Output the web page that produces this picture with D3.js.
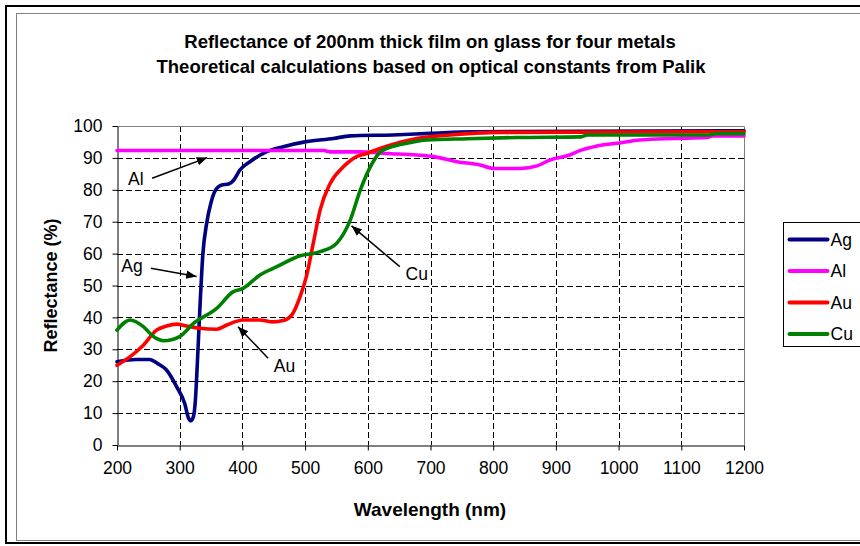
<!DOCTYPE html>
<html>
<head>
<meta charset="utf-8">
<script src="https://cdn.jsdelivr.net/npm/d3@7"></script>
<style>
  body { margin: 0; background: #fff; }
  svg { display: block; font-family: "Liberation Sans", Arial, sans-serif; }
</style>
</head>
<body>
<div id="chart"></div>
<script>
// values: [wavelength nm, reflectance %]
const agData = [[200,26.1],[230,26.8],[252,26.8],[265,25.5],[279,23.5],[295,18.3],[308,13],[314,8.5],[318,7.6],[322,9],[325,14],[328,25],[332,42],[337,60],[343,69.5],[350,76],[356,79.5],[367,81.5],[378,81.8],[386,83],[396,86.2],[412,88.8],[438,91.9],[465,93.5],[502,95.1],[545,96.1],[572,96.9],[640,97.2],[700,97.7],[768,98.2],[1200,98.5]];
const alData = [[200,92.3],[530,92.3],[540,91.9],[588,91.9],[630,91.4],[678,90.9],[705,90.4],[742,88.8],[779,87.8],[800,86.7],[843,86.7],[870,87.5],[890,89.3],[922,90.9],[938,92.3],[965,93.7],[997,94.6],[1034,95.6],[1087,96.1],[1140,96.4],[1150,96.9],[1200,96.9]];
const auData = [[200,25],[221,27.7],[242,31.3],[263,36],[279,37.3],[295,37.9],[311,37.3],[332,36.6],[359,36.3],[375,37.6],[401,39.2],[428,39.2],[449,38.6],[465,39],[479,40.8],[492,46.5],[502,52.8],[513,63.2],[524,73.7],[540,82],[561,87.2],[582,90.4],[598,91.4],[630,93.7],[678,96.1],[731,97.2],[811,98],[1200,98.2]];
const cuData = [[200,36],[221,39.2],[242,37.1],[258,34],[274,32.7],[300,34],[322,38.1],[359,42.8],[385,48],[401,49.1],[428,53.3],[455,55.9],[492,59.3],[524,60.6],[550,63.2],[572,70.5],[588,79.9],[604,87.2],[620,91.9],[635,93.3],[662,94.6],[694,95.6],[758,96],[838,96.4],[940,96.6],[950,97.2],[1145,97.2],[1155,97.6],[1200,97.6]];

const seriesNames = ["Ag", "Al", "Au", "Cu"];
const seriesColors = ["#000080", "#ff00ff", "#ff0000", "#008000"];
const xTicks = [200,300,400,500,600,700,800,900,1000,1100,1200];
const yTicks = [0,10,20,30,40,50,60,70,80,90,100];

// annotation: label, text centre (data), arrow start and tip (data)
const notes = [
    { label: "Al", tx: [230, 83.3], from: [256, 83.6], to: [344, 90.1] },
    { label: "Ag", tx: [224, 56.2], from: [254, 55.4], to: [327, 52.8] },
    { label: "Au", tx: [467, 24.8], from: [441, 27.2], to: [393, 37.1] },
    { label: "Cu", tx: [678, 53.8], from: [651, 55.9], to: [574, 68.7] }
];

const width = 860, height = 546;
const margin = { left: 117, right: 116, top: 126, bottom: 101 };

const svg = d3.select("#chart").append("svg")
    .attr("width", width).attr("height", height);

svg.append("rect").attr("width", width).attr("height", height).attr("fill", "#fff");

// outer frames
svg.append("rect").attr("x", 6).attr("y", 6).attr("width", 900).attr("height", 537)
    .attr("fill", "none").attr("stroke", "#000").attr("stroke-width", 2);
svg.append("rect").attr("x", 16.5).attr("y", 13.5).attr("width", 900).attr("height", 527)
    .attr("fill", "none").attr("stroke", "#808080").attr("stroke-width", 1);

const x = d3.scaleLinear().domain([200, 1200]).range([margin.left, width - margin.right]);
const y = d3.scaleLinear().domain([0, 100]).range([height - margin.bottom, margin.top]);

// title
const title = svg.append("g").attr("font-weight", "bold").attr("font-size", 18.5)
    .attr("text-anchor", "middle");
title.append("text").attr("x", 430).attr("y", 48).text("Reflectance of 200nm thick film on glass for four metals");
title.append("text").attr("x", 431).attr("y", 73).text("Theoretical calculations based on optical constants from Palik");

// grid
const grid = svg.append("g").attr("stroke", "#000").attr("stroke-width", 1).attr("stroke-dasharray", "6,3");
grid.selectAll(".hg").data(yTicks.slice(1, -1)).enter().append("line")
    .attr("x1", x(200)).attr("x2", x(1200))
    .attr("y1", d => Math.round(y(d)) + 0.5).attr("y2", d => Math.round(y(d)) + 0.5);
grid.selectAll(".vg").data(xTicks.slice(1, -1)).enter().append("line")
    .attr("y1", y(100)).attr("y2", y(0))
    .attr("x1", d => Math.round(x(d)) + 0.5).attr("x2", d => Math.round(x(d)) + 0.5);

// plot border top/right
svg.append("path")
    .attr("d", `M${x(200)},${Math.round(y(100)) + 0.5}H${Math.round(x(1200)) + 0.5}V${y(0)}`)
    .attr("fill", "none").attr("stroke", "#808080").attr("stroke-width", 1);

// axes
const xAxis = svg.append("g").attr("transform", `translate(0,${Math.round(y(0)) + 0.5})`)
    .call(d3.axisBottom(x).tickValues(xTicks).tickSize(5).tickSizeOuter(0).tickFormat(d3.format("d")));
const yAxis = svg.append("g").attr("transform", `translate(${Math.round(x(200)) + 0.5},0)`)
    .call(d3.axisLeft(y).tickValues(yTicks).tickSize(5).tickSizeOuter(0));
[xAxis, yAxis].forEach(a => {
    a.select(".domain").attr("stroke", "#000");
    a.selectAll(".tick line").attr("stroke", "#000");
    a.selectAll("text").attr("font-size", 17.5).attr("fill", "#000")
        .attr("font-family", "'Liberation Sans', Arial, sans-serif");
});
xAxis.selectAll("text").attr("dy", "0.71em").attr("y", 16);
yAxis.selectAll("text").attr("x", -15);

svg.append("text").attr("x", 430).attr("y", 516).attr("text-anchor", "middle")
    .attr("font-weight", "bold").attr("font-size", 19).text("Wavelength (nm)");
svg.append("text").attr("transform", `translate(57,${y(50)}) rotate(-90)`)
    .attr("text-anchor", "middle").attr("font-weight", "bold").attr("font-size", 18)
    .text("Reflectance (%)");

// series
const line = d3.line().x(d => x(d[0])).y(d => y(d[1])).curve(d3.curveMonotoneX);
const allData = [agData, alData, auData, cuData];
svg.append("g").selectAll("path").data(allData).enter().append("path")
    .attr("d", line).attr("fill", "none")
    .attr("stroke", (d, i) => seriesColors[i]).attr("stroke-width", 3.6)
    .attr("stroke-linejoin", "round").attr("stroke-linecap", "round");

// arrows
svg.append("defs").append("marker").attr("id", "arrow")
    .attr("viewBox", "0 0 10 10").attr("refX", 10).attr("refY", 5)
    .attr("markerWidth", 7).attr("markerHeight", 7).attr("orient", "auto")
    .append("path").attr("d", "M0,1L10,5L0,9z").attr("fill", "#000");

const ann = svg.append("g");
ann.selectAll("line").data(notes).enter().append("line")
    .attr("x1", d => x(d.from[0])).attr("y1", d => y(d.from[1]))
    .attr("x2", d => x(d.to[0])).attr("y2", d => y(d.to[1]))
    .attr("stroke", "#000").attr("stroke-width", 1.5).attr("marker-end", "url(#arrow)");
ann.selectAll("text").data(notes).enter().append("text")
    .attr("x", d => x(d.tx[0])).attr("y", d => y(d.tx[1]))
    .attr("text-anchor", "middle").attr("dy", "0.35em").attr("font-size", 17.5)
    .text(d => d.label);

// legend
const legend = svg.append("g").attr("transform", "translate(783.5,222.5)");
legend.append("rect").attr("width", 100).attr("height", 124)
    .attr("fill", "#fff").attr("stroke", "#000").attr("stroke-width", 1);
const items = legend.selectAll(".item").data(seriesNames).enter().append("g")
    .attr("transform", (d, i) => `translate(0,${17 + i * 31.5})`);
items.append("line").attr("x1", 6).attr("x2", 44)
    .attr("stroke", (d, i) => seriesColors[i]).attr("stroke-width", 4).attr("stroke-linecap", "round");
items.append("text").attr("x", 47).attr("dy", "0.35em").attr("font-size", 17.5).text(d => d);
</script>
</body>
</html>
